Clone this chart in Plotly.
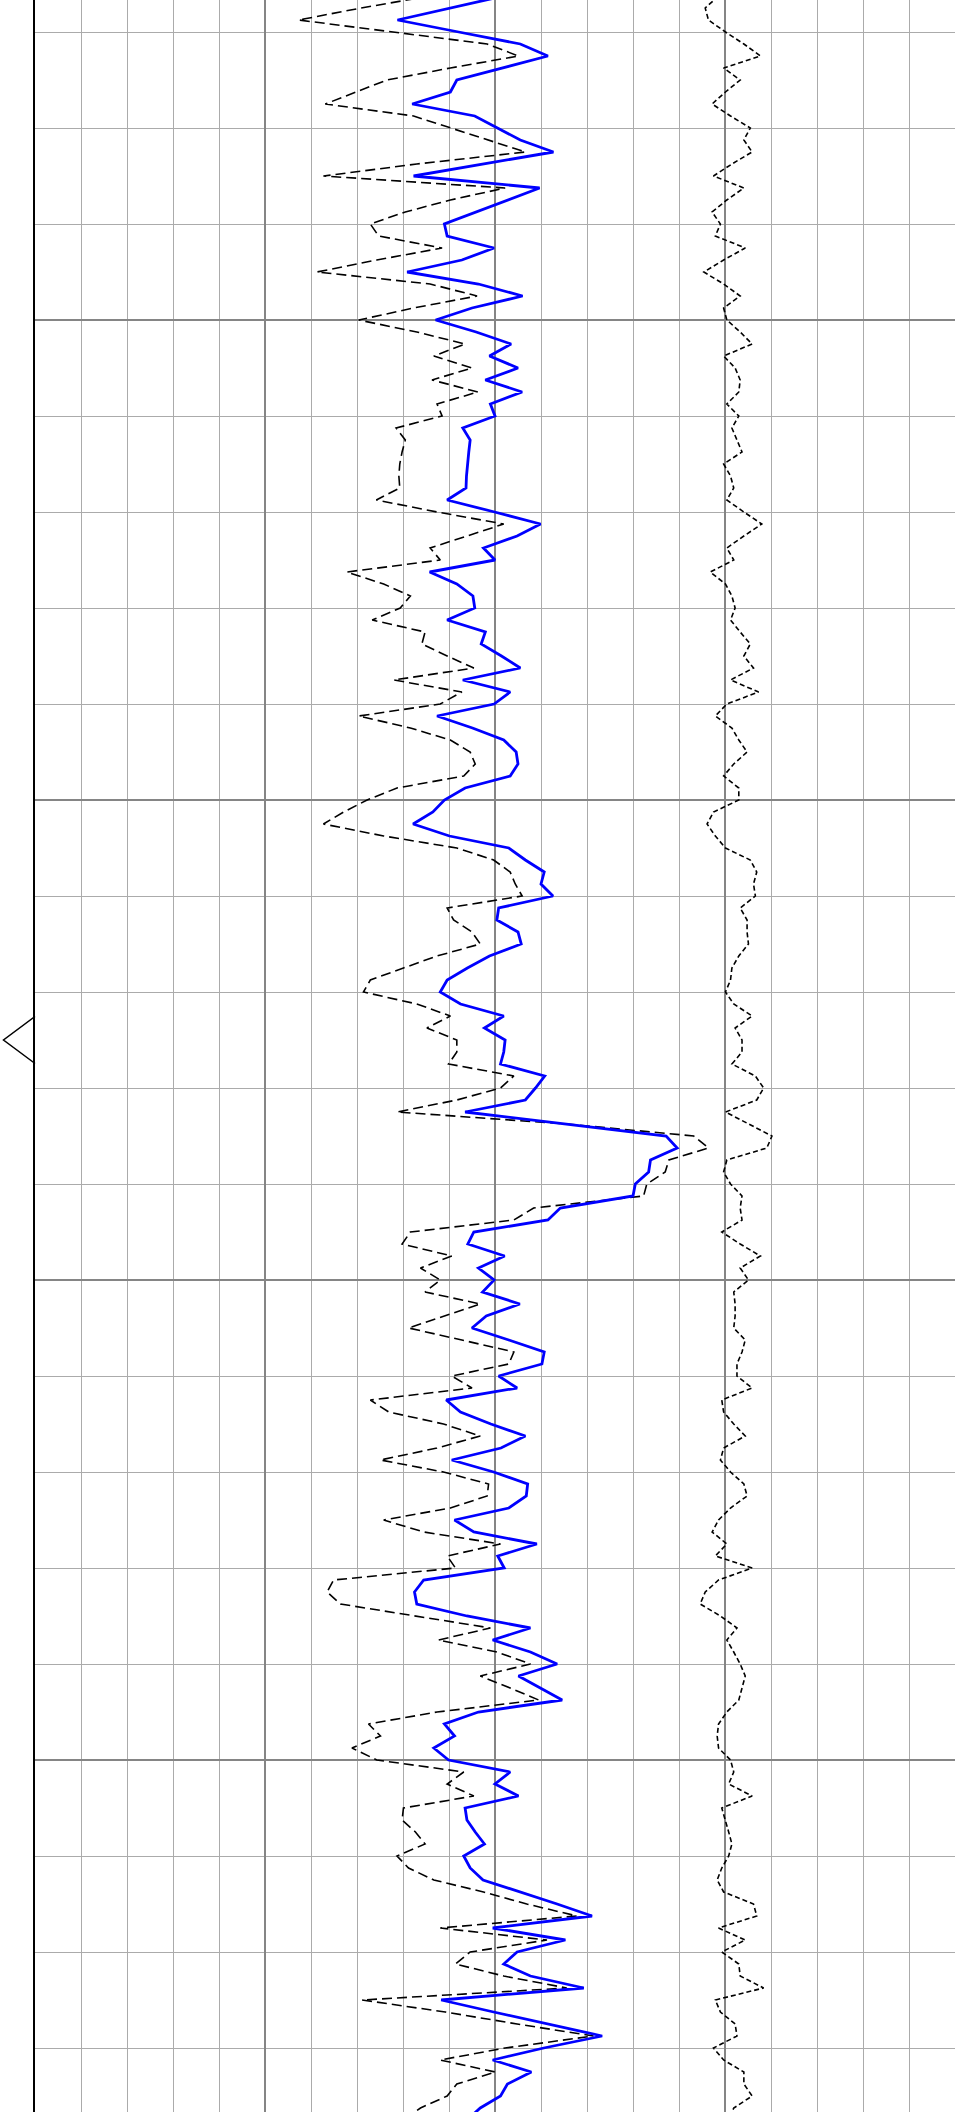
import numpy as np
import plotly.graph_objects as go

# depth sampling (m): one sample every 0.125 m
DEPTH_TOP = 1001.625
DEPTH_STEP = 0.125
VIEW_TOP, VIEW_BASE = 1001.6667, 1023.6667

# blue solid curve
curve_a = [
    101.9, 90.3, 78.8, 92.1, 105.5, 111.5, 101.6, 91.7, 90.3, 82.0, 95.6,
    100.4, 105.5, 112.7, 97.2, 82.3, 109.7, 102.8, 95.9, 89.0, 89.6,
    99.8, 92.8, 80.9, 96.4, 106.0, 95.0, 87.1, 95.9, 103.5, 98.8,
    105.0, 97.9, 105.9, 99.0, 100.0, 93.0, 94.6, 94.3, 94.0, 93.8,
    93.7, 89.6, 99.9, 109.9, 104.8, 97.5, 100.0, 85.8, 91.7, 95.2,
    95.6, 89.6, 97.9, 97.0, 101.4, 105.5, 93.0, 103.3, 99.8, 87.4,
    95.1, 101.9, 104.6, 105.0, 103.3, 93.5, 89.0, 86.5, 82.2, 90.1,
    103.0, 106.6, 110.7, 110.0, 112.6, 100.8, 100.4, 105.0, 105.7, 98.8,
    94.0, 89.6, 88.1, 92.5, 101.9, 97.7, 102.2, 101.9, 101.2, 110.8,
    108.8, 106.6, 93.5, 115.6, 137.2, 139.6, 133.8, 133.4, 130.5, 130.0,
    114.2, 111.5, 95.4, 94.1, 102.1, 96.4, 99.8, 97.3, 105.4, 98.1,
    95.0, 103.0, 110.7, 110.2, 100.8, 104.8, 89.4, 92.5, 99.1, 106.6,
    101.3, 90.6, 99.7, 107.1, 106.8, 103.0, 91.2, 95.4, 109.1, 100.6,
    102.0, 84.5, 82.5, 83.0, 93.9, 107.7, 99.5, 107.7, 113.5, 105.1,
    110.0, 114.6, 96.4, 89.0, 91.2, 86.7, 89.9, 103.3, 100.0, 105.1,
    93.5, 93.9, 95.7, 97.7, 93.2, 94.6, 97.4, 105.5, 113.5, 121.1,
    99.5, 115.3, 104.8, 101.9, 107.7, 119.3, 88.3, 99.7, 111.7, 123.3,
    110.6, 99.5, 107.9, 102.7, 101.2, 96.8, 93.9,
]

# black dashed curve
curve_b = [
    85.9, 70.9, 57.3, 77.2, 98.3, 105.1, 90.3, 76.5, 69.6, 63.1, 82.3,
    90.3, 98.3, 106.6, 83.0, 62.7, 102.2, 90.3, 80.5, 72.9, 74.7,
    88.5, 74.3, 61.3, 85.9, 96.1, 82.3, 70.4, 83.0, 93.5, 86.7,
    95.0, 86.3, 96.3, 87.4, 88.5, 78.5, 80.5, 79.8, 79.3, 79.1,
    79.3, 74.2, 87.4, 101.9, 93.9, 85.9, 88.1, 67.8, 75.8, 81.6,
    79.4, 73.3, 84.8, 84.1, 89.6, 95.4, 78.0, 92.8, 88.1, 70.4,
    81.6, 90.3, 94.6, 95.7, 93.2, 78.7, 72.2, 67.1, 62.7, 75.8,
    91.7, 99.7, 103.3, 104.4, 105.9, 89.6, 91.0, 95.0, 96.8, 87.4,
    80.1, 72.9, 71.4, 83.0, 90.3, 85.2, 91.7, 91.7, 89.9, 104.1,
    101.2, 91.7, 78.7, 115.6, 143.2, 146.4, 137.8, 137.0, 133.0, 132.3,
    108.4, 104.1, 81.6, 79.8, 90.6, 83.8, 88.1, 84.8, 96.8, 88.8,
    81.2, 92.8, 104.1, 103.0, 90.6, 95.0, 72.9, 76.9, 88.8, 96.8,
    87.4, 75.1, 88.8, 98.6, 98.3, 90.3, 75.8, 84.5, 101.2, 89.6,
    91.4, 64.9, 63.5, 66.4, 83.0, 99.0, 87.7, 100.4, 107.7, 96.8,
    103.3, 109.5, 87.4, 72.5, 75.1, 68.9, 74.3, 93.2, 89.6, 95.4,
    80.1, 79.8, 82.7, 84.8, 78.7, 81.2, 86.7, 97.5, 106.9, 117.8,
    88.1, 111.3, 94.6, 91.4, 101.9, 115.6, 71.1, 89.2, 104.8, 121.4,
    102.2, 88.1, 100.1, 91.7, 89.6, 83.8, 80.1,
]

# black short-dash curve (right)
curve_c = [
    148.6, 145.7, 146.4, 150.1, 154.1, 157.7, 149.7, 153.3, 150.1, 147.2, 151.2,
    155.5, 154.1, 155.9, 151.5, 147.5, 154.1, 150.4, 147.2, 149.0, 147.9,
    154.4, 149.7, 145.4, 149.7, 153.3, 149.7, 150.4, 153.3, 155.9, 149.7,
    152.2, 153.3, 153.0, 150.4, 153.0, 151.5, 152.6, 153.7, 149.7, 151.2,
    151.9, 150.4, 154.1, 158.0, 154.1, 150.4, 151.9, 146.8, 150.1, 151.5,
    152.2, 151.2, 153.3, 155.5, 154.1, 156.2, 151.2, 157.3, 150.4, 147.9,
    151.5, 153.0, 154.8, 151.9, 149.7, 153.0, 153.0, 147.5, 146.1, 147.9,
    150.1, 155.5, 156.9, 156.2, 156.6, 153.3, 154.8, 154.8, 155.1, 153.0,
    151.5, 151.2, 150.1, 151.9, 155.9, 152.2, 153.7, 153.7, 151.5, 156.6,
    158.4, 156.9, 150.1, 155.1, 160.2, 159.1, 150.4, 149.7, 151.2, 153.7,
    153.3, 153.7, 149.3, 153.3, 157.7, 153.3, 155.1, 151.9, 152.2, 152.2,
    151.9, 154.4, 153.7, 152.6, 152.6, 155.9, 149.3, 149.7, 151.9, 154.4,
    149.7, 149.0, 151.2, 154.1, 154.8, 151.2, 148.6, 147.2, 150.4, 147.9,
    155.9, 148.6, 145.7, 144.6, 149.0, 152.6, 150.4, 151.9, 153.3, 154.4,
    153.7, 153.0, 150.4, 148.6, 148.3, 148.6, 151.2, 151.9, 150.8, 155.9,
    149.3, 150.1, 150.8, 151.5, 150.8, 149.3, 148.3, 149.7, 156.2, 156.9,
    148.6, 154.4, 149.3, 153.0, 153.3, 158.4, 147.9, 149.0, 152.2, 152.6,
    147.5, 149.7, 154.1, 154.1, 155.9, 151.9, 150.8,
]

MARKER_DEPTH = 1012.5

depth = DEPTH_TOP + DEPTH_STEP * np.arange(len(curve_a))

fig = go.Figure()

fig.add_trace(go.Scatter(
    x=curve_b, y=depth, mode="lines",
    line=dict(color="black", width=1.6, dash="10px,5px"),
))
fig.add_trace(go.Scatter(
    x=curve_c, y=depth, mode="lines",
    line=dict(color="black", width=1.6, dash="5px,3px"),
))
fig.add_trace(go.Scatter(
    x=curve_a, y=depth, mode="lines",
    line=dict(color="#0000ff", width=2.8),
))

# depth marker hanging off the left edge of the track
fig.add_shape(
    type="path",
    xref="paper", yref="y",
    xsizemode="pixel", xanchor=0,
    ysizemode="pixel", yanchor=MARKER_DEPTH,
    path="M 0 23.5 L -31.5 0 L 0 -23.5",
    line=dict(color="black", width=1.5),
)

fig.update_layout(
    width=969,
    height=2112,
    margin=dict(l=35, r=14, t=0, b=0),
    plot_bgcolor="white",
    paper_bgcolor="white",
    showlegend=False,
    xaxis=dict(
        range=[0, 200],
        tick0=0, dtick=50,
        showticklabels=False, ticks="",
        showgrid=True, gridcolor="#858585", gridwidth=1.5,
        minor=dict(dtick=10, showgrid=True, gridcolor="#ababab", gridwidth=1),
        zeroline=False, showline=False,
    ),
    yaxis=dict(
        range=[VIEW_BASE, VIEW_TOP],
        tick0=1000, dtick=5,
        showticklabels=False, ticks="",
        showgrid=True, gridcolor="#858585", gridwidth=1.5,
        minor=dict(dtick=1, showgrid=True, gridcolor="#ababab", gridwidth=1),
        zeroline=False,
        showline=True, linecolor="black", linewidth=2,
    ),
)

# page has a default 8px body margin; drop it so the figure sits at the corner
fig.write_html(
    "out.html",
    config={"displayModeBar": False},
    post_script="document.body.style.margin='0';",
)
